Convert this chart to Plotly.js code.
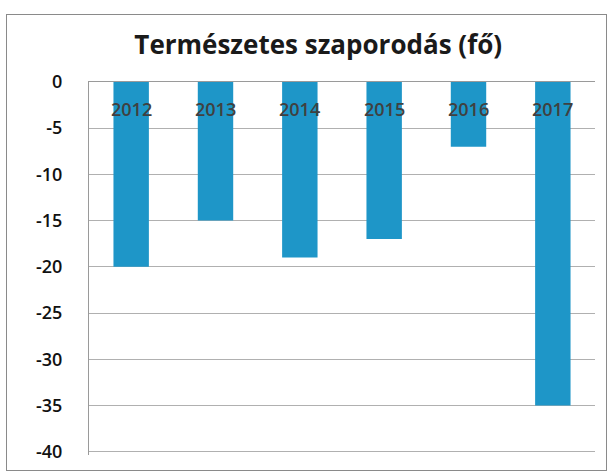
<!DOCTYPE html>
<html>
<head>
<meta charset="utf-8">
<script src="https://cdn.plot.ly/plotly-3.0.1.min.js"></script>
<style>
  html, body { margin: 0; padding: 0; background: #fff; }
  #wrap { position: relative; width: 612px; height: 473px; }
  #chart { width: 612px; height: 473px; }
  #frame { position: absolute; left: 6px; top: 14px; width: 599px; height: 455px; border: 1px solid #8a8a8a; pointer-events: none; }
</style>
</head>
<body>
<div id="wrap">
  <div id="chart"></div>
  <div id="frame"></div>
</div>
<script>
const years = ['2012', '2013', '2014', '2015', '2016', '2017'];
const values = [-20, -15, -19, -17, -7, -35];
const yTicks = [0, -5, -10, -15, -20, -25, -30, -35, -40];

const trace = {
  type: 'bar',
  x: years,
  y: values,
  marker: { color: '#1e96c8' },
  hoverinfo: 'x+y'
};

const yearLabels = years.map(function (yr, i) {
  return {
    x: i, xref: 'x',
    y: 1, yref: 'paper',
    yanchor: 'middle', yshift: -28,
    text: yr, showarrow: false,
    font: { family: 'Open Sans, sans-serif', size: 18, color: '#404040', weight: 600 }
  };
});

const layout = {
  width: 612,
  height: 473,
  margin: { l: 89, r: 17, t: 81, b: 18 },
  paper_bgcolor: '#ffffff',
  plot_bgcolor: '#ffffff',
  bargap: 0.58,
  showlegend: false,
  title: {
    text: '<b>Természetes szaporodás (fő)</b>',
    font: { family: 'Open Sans, sans-serif', size: 26, color: '#1a1a1a' },
    x: 0.52, xanchor: 'center',
    y: 0.905, yanchor: 'middle'
  },
  annotations: yearLabels,
  xaxis: {
    type: 'category',
    categoryorder: 'array',
    categoryarray: years,
    range: [-0.5, years.length - 0.5],
    showticklabels: false,
    showgrid: false,
    zeroline: false,
    showline: false,
    ticks: ''
  },
  yaxis: {
    range: [-40.35, 0.1],
    tickvals: yTicks,
    ticktext: yTicks.map(String),
    showgrid: true,
    gridcolor: '#b0b0b0',
    gridwidth: 1,
    zeroline: true,
    zerolinecolor: '#9a9a9a',
    showline: true,
    linecolor: '#9a9a9a',
    ticks: '',
    ticklabelstandoff: 22,
    tickfont: { family: 'Open Sans, sans-serif', size: 18, color: '#111111', weight: 600 }
  }
};

Plotly.newPlot('chart', [trace], layout, { displayModeBar: false, staticPlot: true });
</script>
</body>
</html>
